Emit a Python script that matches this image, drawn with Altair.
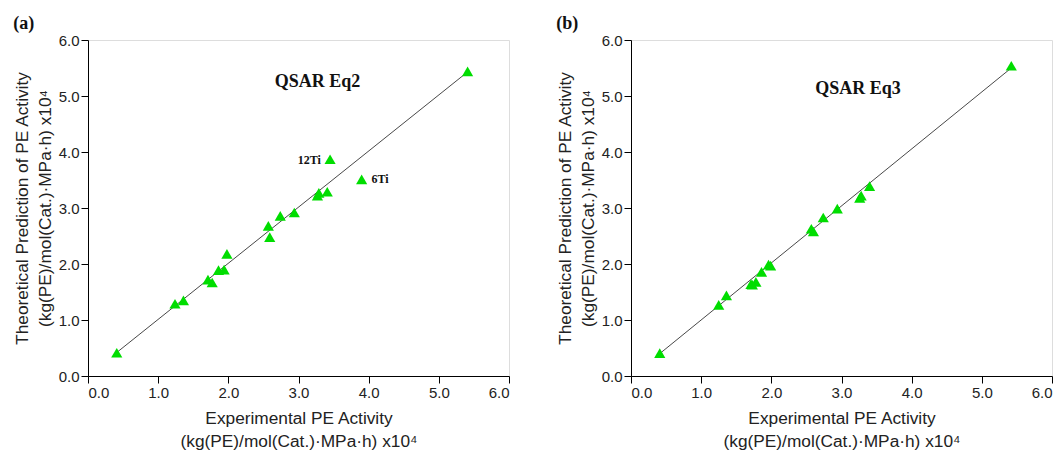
import altair as alt
import pandas as pd

# Panel (a): QSAR Eq2
a_exp = [0.41, 1.24, 1.36, 1.71, 1.77, 1.86, 1.94, 1.98, 2.57, 2.59, 2.74, 2.94, 3.27, 3.29, 3.41, 3.45, 3.90, 5.41]
a_pred = [0.415, 1.29, 1.35, 1.72, 1.67, 1.89, 1.90, 2.18, 2.68, 2.48, 2.86, 2.92, 3.22, 3.27, 3.29, 3.87, 3.51, 5.44]
a_line_x = [0.41, 5.36]
a_line_y = [0.42, 5.38]

# Panel (b): QSAR Eq3
b_exp = [0.41, 1.25, 1.36, 1.71, 1.73, 1.78, 1.86, 1.96, 1.99, 2.57, 2.60, 2.74, 2.94, 3.26, 3.28, 3.40, 5.42]
b_pred = [0.41, 1.27, 1.44, 1.64, 1.63, 1.68, 1.86, 1.99, 1.97, 2.63, 2.58, 2.83, 2.99, 3.18, 3.22, 3.39, 5.54]
b_line_x = [0.41, 5.39]
b_line_y = [0.40, 5.47]

a_labels = ["QSAR Eq2", "12Ti", "6Ti"]
a_label_x = [3.27, 3.32, 4.04]
a_label_y = [5.25, 3.85, 3.51]
a_label_size = [18, 12, 12]
a_label_align = ["center", "right", "left"]

b_labels = ["QSAR Eq3"]
b_label_x = [3.235]
b_label_y = [5.13]
b_label_size = [18]
b_label_align = ["center"]

ticks = [i * 0.5 for i in range(13)]
x_title = ["Experimental PE Activity", "(kg(PE)/mol(Cat.)\u00b7MPa\u00b7h) x10\u2074"]
y_title = ["Theoretical Prediction of PE Activity", "(kg(PE)/mol(Cat.)\u00b7MPa\u00b7h) x10\u2074"]

GREEN = "#00dd00"
SANS = "Liberation Sans"
SERIF = "Liberation Serif"


def axis(title, pad):
    return alt.Axis(
        values=ticks,
        labelExpr="datum.value % 1 === 0 ? format(datum.value, '.1f') : ''",
        tickSize={"condition": {"test": "datum.value % 1 !== 0", "value": 4}, "value": 7},
        title=title,
        titlePadding=pad,
        grid=False,
        domainColor="black",
        tickColor="black",
        labelColor="#222",
        titleColor="#222",
        labelFont=SANS,
        labelFontSize=15,
        titleFont=SANS,
        titleFontSize=17.3,
        titleFontWeight="normal",
        titleLineHeight=23,
        labelPadding=2,
    )


def panel(ex, pr, lx, ly, labs, lxs, lys, lsz, lal, name, w, h):
    xs = alt.Scale(domain=[0, 6], nice=False)
    ys = alt.Scale(domain=[0, 6], nice=False)
    pts = pd.DataFrame({"x": ex, "y": pr})
    ln = pd.DataFrame({"x": lx, "y": ly})
    ann = pd.DataFrame({"t": labs, "x": lxs, "y": lys, "s": lsz, "a": lal})

    line = alt.Chart(ln).mark_line(color="#333", strokeWidth=0.9).encode(
        x=alt.X("x:Q", scale=xs, axis=axis(x_title, 9)),
        y=alt.Y("y:Q", scale=ys, axis=axis(y_title, 4)),
    )
    points = alt.Chart(pts).mark_point(
        shape="triangle-up", filled=True, color=GREEN, opacity=1, size=125
    ).encode(x="x:Q", y="y:Q")
    layers = [line, points]
    for al in sorted(set(lal)):
        sub = ann[ann["a"] == al]
        for sz in sorted(set(sub["s"])):
            sub2 = sub[sub["s"] == sz]
            layers.append(
                alt.Chart(sub2).mark_text(
                    font=SERIF, fontWeight="bold", fontSize=int(sz), align=al,
                    baseline="middle", color="#111"
                ).encode(x="x:Q", y="y:Q", text="t:N")
            )
    return alt.layer(*layers).properties(
        width=w, height=h,
        title=alt.TitleParams(name, anchor="start", frame="bounds", font=SERIF,
                              fontSize=18, fontWeight="bold", color="#111", offset=0),
    )


pa = panel(a_exp, a_pred, a_line_x, a_line_y, a_labels, a_label_x, a_label_y,
           a_label_size, a_label_align, "(a)", 421, 336)
pb = panel(b_exp, b_pred, b_line_x, b_line_y, b_labels, b_label_x, b_label_y,
           b_label_size, b_label_align, "(b)", 421, 336)

chart = alt.hconcat(pa, pb, spacing=45).properties(
    padding={"left": 4, "top": 6, "right": 0, "bottom": 0}
).configure_view(stroke=None).configure(background="white")

chart.save("out.html", embed_options={"renderer": "svg", "actions": False})
